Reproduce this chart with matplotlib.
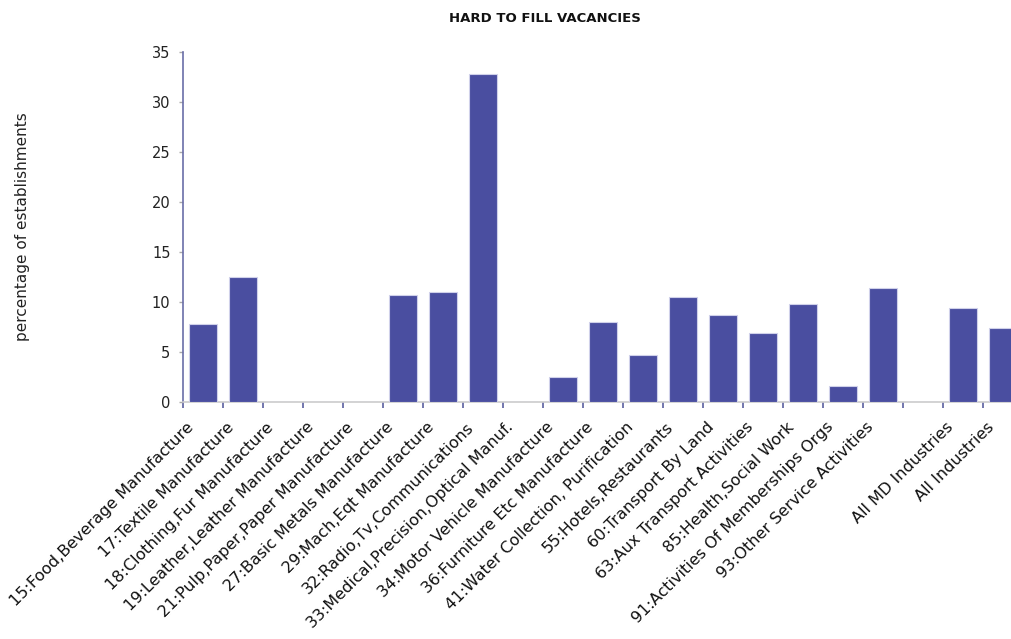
import numpy as np
import matplotlib
matplotlib.use("Agg")
import matplotlib.pyplot as plt
from matplotlib.transforms import ScaledTranslation

# categories and values (percentage of establishments)
categorias = [
    "15:Food,Beverage Manufacture",
    "17:Textile Manufacture",
    "18:Clothing,Fur Manufacture",
    "19:Leather,Leather Manufacture",
    "21:Pulp,Paper,Paper Manufacture",
    "27:Basic Metals Manufacture",
    "29:Mach,Eqt Manufacture",
    "32:Radio,Tv,Communications",
    "33:Medical,Precision,Optical Manuf.",
    "34:Motor Vehicle Manufacture",
    "36:Furniture Etc Manufacture",
    "41:Water Collection, Purification",
    "55:Hotels,Restaurants",
    "60:Transport By Land",
    "63:Aux Transport Activities",
    "85:Health,Social Work",
    "91:Activities Of Memberships Orgs",
    "93:Other Service Activities",
    "",
    "All MD Industries",
    "All Industries",
]
valores = [7.8, 12.5, 0, 0, 0, 10.7, 11.0, 32.8, 0, 2.5, 8.0, 4.7,
           10.5, 8.7, 6.9, 9.8, 1.6, 11.4, 0, 9.4, 7.4]
y_ticks = [0, 5, 10, 15, 20, 25, 30, 35]

plt.rcParams['font.family'] = ['DejaVu Sans']

fig = plt.figure(figsize=(10.12, 6.39), dpi=100)
fig.patch.set_facecolor('white')

# axes spans slightly beyond the right edge, like the original
ax = fig.add_axes([183 / 1012, 237 / 639, 840 / 1012, 350 / 639])

x = np.arange(len(categorias))
ax.bar(x, valores, width=0.68, color='#4a4ea0', edgecolor='#d0d1ea', linewidth=0.8, zorder=3)

ax.set_xlim(-0.5, len(categorias) - 0.5)
ax.set_ylim(0, 35)
ax.set_yticks(y_ticks)
ax.tick_params(axis='y', length=3, width=1, color='#aaaaaa', labelsize=10.5,
               labelcolor='#222222', pad=6)

# category labels, ticks between categories
ax.set_xticks(x)
ax.set_xticklabels(categorias, rotation=45, ha='right', rotation_mode='anchor',
                   fontsize=11.5, color='#111111')
ax.tick_params(axis='x', which='major', length=0, pad=4)
desloc = ScaledTranslation(-0.17, -0.12, fig.dpi_scale_trans)
for rotulo in ax.get_xticklabels():
    rotulo.set_transform(rotulo.get_transform() + desloc)
ax.set_xticks(np.arange(-0.5, len(categorias), 1), minor=True)
ax.tick_params(axis='x', which='minor', length=4, width=1.2, color='#5a5fa0', direction='out')

for lado in ['top', 'right']:
    ax.spines[lado].set_visible(False)
ax.spines['left'].set_color('#6a6ea8')
ax.spines['left'].set_linewidth(1.2)
ax.spines['bottom'].set_color('#cccccc')
ax.spines['bottom'].set_linewidth(1.2)

ax.set_ylabel("percentage of establishments", fontsize=11, color='#222222', labelpad=0)
ax.yaxis.set_label_coords(-153 / 840, 0.5)

fig.text(545 / 1012, 1 - 18 / 639, "HARD TO FILL VACANCIES", ha='center', va='center',
         fontsize=9.5, weight='bold', color='#111111')

fig.savefig("out.png", dpi=100, facecolor='white')
